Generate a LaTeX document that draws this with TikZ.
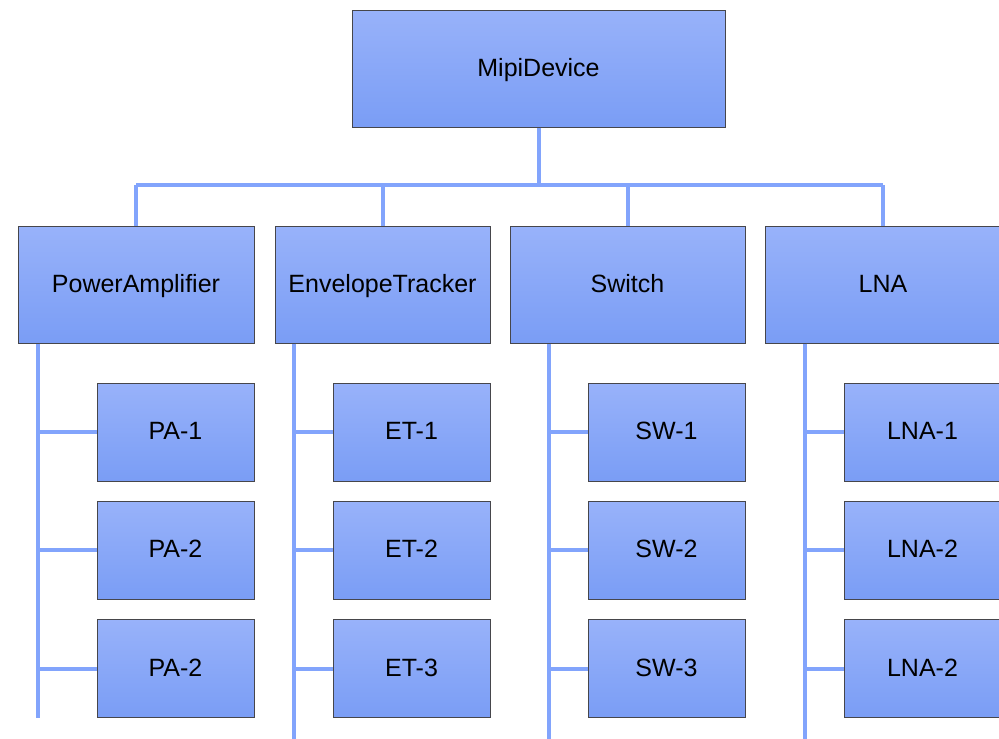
\documentclass[tikz,border=0pt]{standalone}
\usepackage{fontspec}
\setmainfont{Liberation Sans}
\definecolor{linec}{RGB}{130,164,252}
\definecolor{boxtop}{RGB}{152,178,250}
\definecolor{boxbot}{RGB}{122,157,245}
\definecolor{boxedge}{RGB}{70,70,75}
\tikzset{
  box/.style={draw=boxedge, line width=1pt, top color=boxtop, bottom color=boxbot,
    font=\fontsize{25}{29}\selectfont, text=black, inner sep=0pt, anchor=center,
    text height=18pt, text depth=3pt},
  bigbox/.style={box, minimum height=117pt},
  smallbox/.style={box, minimum width=157pt, minimum height=98pt},
  conn/.style={draw=linec, line width=4pt},
}
\begin{document}
\begin{tikzpicture}[x=1pt,y=-1pt]
\useasboundingbox (0,0) rectangle (999,739);
% top
\node[bigbox, minimum width=373pt] (mipi) at (538.5,68.5) {MipiDevice};
% level 2
\node[bigbox, minimum width=236pt] (pa) at (136,284.5) {PowerAmplifier};
\node[bigbox, minimum width=215pt] (et) at (382.5,284.5) {EnvelopeTracker};
\node[bigbox, minimum width=235pt] (sw) at (627.5,284.5) {Switch};
\node[bigbox, minimum width=236pt] (lna) at (883,284.5) {LNA};
% level 3
\node[smallbox] (pa1) at (175.5,432) {PA-1};
\node[smallbox] (pa2) at (175.5,550) {PA-2};
\node[smallbox] (pa3) at (175.5,668.5) {PA-2};
\node[smallbox] (et1) at (411.5,432) {ET-1};
\node[smallbox] (et2) at (411.5,550) {ET-2};
\node[smallbox] (et3) at (411.5,668.5) {ET-3};
\node[smallbox] (sw1) at (666.5,432) {SW-1};
\node[smallbox] (sw2) at (666.5,550) {SW-2};
\node[smallbox] (sw3) at (666.5,668.5) {SW-3};
\node[smallbox] (lna1) at (922.5,432) {LNA-1};
\node[smallbox] (lna2) at (922.5,550) {LNA-2};
\node[smallbox] (lna3) at (922.5,668.5) {LNA-2};
% connectors level 1-2
\coordinate (bar) at (0,185);
\draw[conn] (mipi.south) -- (mipi.south |- bar);
\draw[conn] (pa.north |- bar) -- (lna.north |- bar);
\foreach \c in {pa,et,sw,lna}{\draw[conn] (\c.north |- bar) -- (\c.north);}
% trunks
\coordinate (patr) at (38,718);
\coordinate (ettr) at (294,739);
\coordinate (swtr) at (549,739);
\coordinate (lnatr) at (805,739);
\draw[conn] (pa.south -| patr) -- (patr);
\draw[conn] (et.south -| ettr) -- (ettr);
\draw[conn] (sw.south -| swtr) -- (swtr);
\draw[conn] (lna.south -| lnatr) -- (lnatr);
\foreach \i in {1,2,3}{
  \draw[conn] (pa\i.west -| patr) -- (pa\i.west);
  \draw[conn] (et\i.west -| ettr) -- (et\i.west);
  \draw[conn] (sw\i.west -| swtr) -- (sw\i.west);
  \draw[conn] (lna\i.west -| lnatr) -- (lna\i.west);
}
\end{tikzpicture}
\end{document}
